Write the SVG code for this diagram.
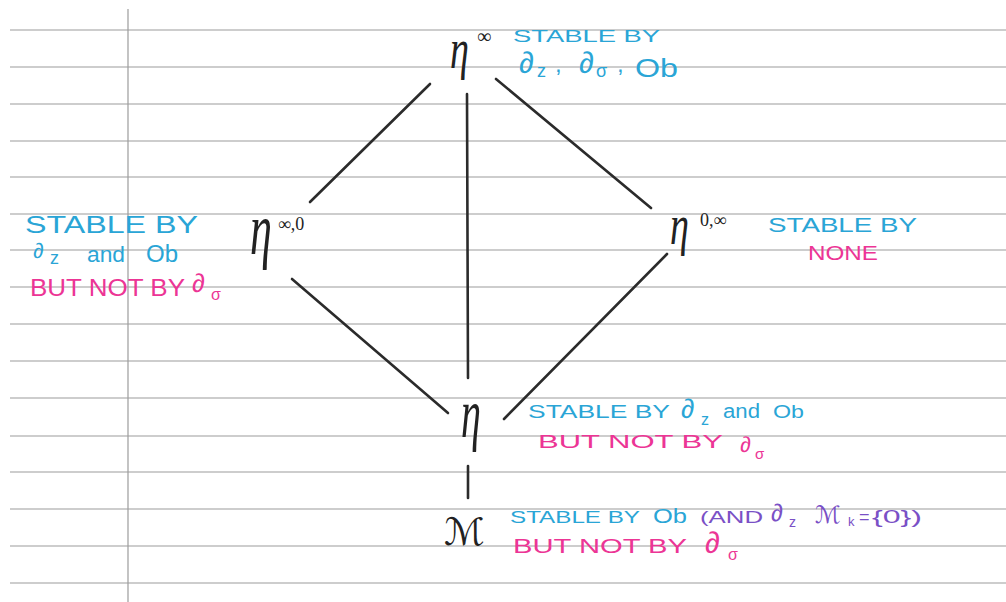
<svg xmlns="http://www.w3.org/2000/svg" width="1006" height="602" viewBox="0 0 1006 602">
<style>
.rule{stroke:#9c9c9c;stroke-width:1.2;fill:none}
.edge{stroke:#2b2b2b;stroke-width:2.6;stroke-linecap:round;fill:none}
.eta{font-family:"Liberation Serif","DejaVu Serif",serif;font-style:italic;fill:#222}
.sup{font-family:"Liberation Serif","DejaVu Serif",serif;fill:#222}
.t{font-family:"Liberation Sans",Arial,sans-serif}
.blue{fill:#2aa5d6}
.pink{fill:#ec3595}
.purple{fill:#7a50c6}
</style>
<rect width="1006" height="602" fill="#ffffff"/>
<g id="paper">
<path class="rule" d="M10 30H1006M10 67H1006M10 104H1006M10 141H1006M10 177H1006M10 214H1006M10 250H1006M10 287H1006M10 324H1006M10 361H1006M10 398H1006M10 436H1006M10 472H1006M10 509H1006M10 546H1006M10 583H1006"/>
<path class="rule" d="M128 9V602" stroke="#aaaaaa"/>
</g>
<g id="connectors">
<line class="edge" x1="430" y1="84" x2="310" y2="202"/>
<line class="edge" x1="467" y1="94" x2="468" y2="378"/>
<line class="edge" x1="496" y1="79" x2="651" y2="208"/>
<line class="edge" x1="292" y1="279" x2="448" y2="413"/>
<line class="edge" x1="667" y1="254" x2="504" y2="419"/>
<line class="edge" x1="468" y1="466" x2="468" y2="498"/>
</g>
<g id="node-eta-inf">
<text class="eta" font-size="38" transform="translate(450,68) scale(1,1.5)">η</text>
<text class="sup" font-size="20" x="477" y="43">∞</text>
<text class="t blue" font-size="17" x="513" y="42" textLength="147" lengthAdjust="spacingAndGlyphs">STABLE BY</text>
<text class="t blue" font-size="30" x="519" y="73">∂</text>
<text class="t blue" font-size="18" x="537" y="77">z</text>
<text class="t blue" font-size="24" x="555" y="72">,</text>
<text class="t blue" font-size="30" x="579" y="73">∂</text>
<text class="t blue" font-size="18" x="596" y="77">σ</text>
<text class="t blue" font-size="24" x="617" y="72">,</text>
<text class="t blue" font-size="25" x="635" y="77" textLength="43" lengthAdjust="spacingAndGlyphs">Ob</text>
</g>
<g id="node-eta-inf-0">
<text class="eta" font-size="44" transform="translate(250,254) scale(1,1.7)">η</text>
<text class="sup" font-size="18" x="278" y="230">∞,0</text>
<text class="t blue" font-size="24" x="25" y="233" textLength="173" lengthAdjust="spacingAndGlyphs">STABLE BY</text>
<text class="t blue" font-size="21" x="33" y="258">∂</text>
<text class="t blue" font-size="18" x="50" y="264">z</text>
<text class="t blue" font-size="22" x="87" y="262" textLength="38" lengthAdjust="spacingAndGlyphs">and</text>
<text class="t blue" font-size="23" x="146" y="262" textLength="32" lengthAdjust="spacingAndGlyphs">Ob</text>
<text class="t pink" font-size="23" x="30" y="296" textLength="155" lengthAdjust="spacingAndGlyphs">BUT NOT BY</text>
<text class="t pink" font-size="26" x="192" y="292">∂</text>
<text class="t pink" font-size="16" x="211" y="300">σ</text>
</g>
<g id="node-eta-0-inf">
<text class="eta" font-size="38" transform="translate(670,244) scale(1,1.5)">η</text>
<text class="sup" font-size="18" x="700" y="226">0,∞</text>
<text class="t blue" font-size="21" x="768" y="232" textLength="149" lengthAdjust="spacingAndGlyphs">STABLE BY</text>
<text class="t pink" font-size="21" x="808" y="260" textLength="70" lengthAdjust="spacingAndGlyphs">NONE</text>
</g>
<g id="node-eta">
<text class="eta" font-size="40" transform="translate(461,437) scale(1,1.75)">η</text>
<text class="t blue" font-size="18" x="528" y="418" textLength="142" lengthAdjust="spacingAndGlyphs">STABLE BY</text>
<text class="t blue" font-size="27" x="681" y="418">∂</text>
<text class="t blue" font-size="16" x="701" y="425">z</text>
<text class="t blue" font-size="20" x="723" y="418" textLength="37" lengthAdjust="spacingAndGlyphs">and</text>
<text class="t blue" font-size="19" x="773" y="418" textLength="31" lengthAdjust="spacingAndGlyphs">Ob</text>
<text class="t pink" font-size="18" x="538" y="448" textLength="185" lengthAdjust="spacingAndGlyphs">BUT NOT BY</text>
<text class="t pink" font-size="22" x="740" y="452">∂</text>
<text class="t pink" font-size="15" x="755" y="459">σ</text>
</g>
<g id="node-M">
<text font-family="DejaVu Serif,DejaVu Sans,serif" font-size="38" fill="#222" x="444" y="545">ℳ</text>
<text class="t blue" font-size="17" x="510" y="523" textLength="130" lengthAdjust="spacingAndGlyphs">STABLE BY</text>
<text class="t blue" font-size="21" x="653" y="523" textLength="34" lengthAdjust="spacingAndGlyphs">Ob</text>
<text class="t purple" font-size="17" x="700" y="523" textLength="63" lengthAdjust="spacingAndGlyphs">(AND</text>
<text class="t purple" font-size="24" x="771" y="521">∂</text>
<text class="t purple" font-size="14" x="789" y="527">z</text>
<text font-family="DejaVu Serif,DejaVu Sans,serif" font-size="24" class="purple" x="815" y="523">ℳ</text>
<text class="t purple" font-size="13" x="848" y="526">k</text>
<text class="t purple" font-size="18" x="859" y="523">=</text>
<text class="t purple" font-size="19" x="872" y="523" textLength="50" lengthAdjust="spacingAndGlyphs">{0})</text>
<text class="t pink" font-size="20" x="513" y="553" textLength="174" lengthAdjust="spacingAndGlyphs">BUT NOT BY</text>
<text class="t pink" font-size="30" x="705" y="553">∂</text>
<text class="t pink" font-size="16" x="728" y="560">σ</text>
</g>
</svg>
